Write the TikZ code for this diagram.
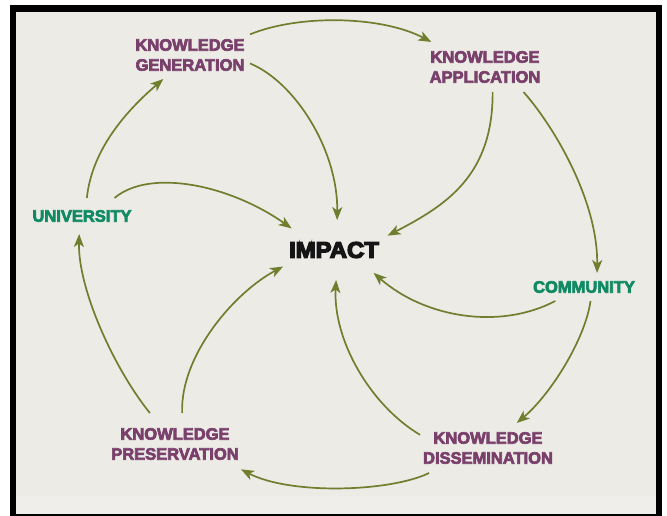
\documentclass[tikz,border=0pt]{standalone}
\usepackage{fontspec}
\usetikzlibrary{arrows.meta,shapes.geometric}
\newfontfamily\lblfont[FakeBold=4]{Liberation Sans Bold}
\newfontfamily\impfont[FakeBold=6,FakeStretch=1.06]{Liberation Sans Bold}
\definecolor{bgc}{HTML}{ECEBE6}
\definecolor{bandc}{HTML}{EFEEEA}
\definecolor{plumc}{HTML}{7A406C}
\definecolor{unigreen}{HTML}{0F8A63}
\definecolor{arrowc}{HTML}{6F7F2E}
\definecolor{inkc}{HTML}{151515}
\begin{document}
\begin{tikzpicture}[x=1pt,y=-1pt,
  lbl/.style={font={\lblfont\fontsize{16.5}{20}\selectfont}, align=center,
    inner sep=0pt, outer sep=0pt, text=plumc},
  grn/.style={lbl, text=unigreen},
  arr/.style={draw=arrowc, line width=1.7pt,
    -{Stealth[length=13pt,width=10pt,inset=3.5pt]}}]
  \useasboundingbox (0,0) rectangle (667,516);
  \fill[white] (0,0) rectangle (667,516);
  \fill[black] (10,5) rectangle (662,516);
  \fill[bgc] (16,12) rectangle (656,514);
  \fill[bandc] (16,496) rectangle (656,514);

  \node[lbl, minimum width=120, minimum height=48] (gen) at (190,55) {KNOWLEDGE\\GENERATION};
  \node[lbl, minimum width=120, minimum height=50] (app) at (485,67) {KNOWLEDGE\\APPLICATION};
  \node[grn, minimum width=104, minimum height=36] (uni) at (82,216) {UNIVERSITY};
  \node[grn, minimum width=110, minimum height=28] (com) at (584,287) {COMMUNITY};
  \node[lbl, minimum width=136, minimum height=50] (dis) at (488,448) {KNOWLEDGE\\DISSEMINATION};
  \node[lbl, minimum width=132, minimum height=62] (pres) at (175,444) {KNOWLEDGE\\PRESERVATION};
  \node[ellipse, inner sep=0pt, outer sep=0pt, minimum width=122, minimum height=60,
    text=inkc, font={\impfont\fontsize{22.5}{26}\selectfont}] (impact) at (334,250) {\makebox[0pt]{IMPACT}};

  \draw[arr] (gen.19) .. controls (300,14) and (382,16) .. (app.155);
  \draw[arr] (gen.-8) .. controls (295,82) and (338,150) .. (impact.84);
  \draw[arr] (uni.75) .. controls (92,150) and (125,112) .. (gen.222);
  \draw[arr] (uni.29) .. controls (150,168) and (230,185) .. (impact.153);
  \draw[arr] (app.-73) .. controls (493,175) and (447,205) .. (impact.15);
  \draw[arr] (app.-33) .. controls (553,125) and (598,200) .. (com.47);
  \draw[arr] (com.-154) .. controls (500,330) and (425,318) .. (impact.-30);
  \draw[arr] (com.-65) .. controls (585,340) and (550,395) .. (dis.41);
  \draw[arr] (dis.169) .. controls (370,405) and (333,340) .. (impact.-86);
  \draw[arr] (dis.-157) .. controls (390,492) and (290,495) .. (pres.-21);
  \draw[arr] (pres.129) .. controls (115,370) and (78,290) .. (uni.-99);
  \draw[arr] (pres.77) .. controls (180,355) and (235,292) .. (impact.198);
\end{tikzpicture}
\end{document}
